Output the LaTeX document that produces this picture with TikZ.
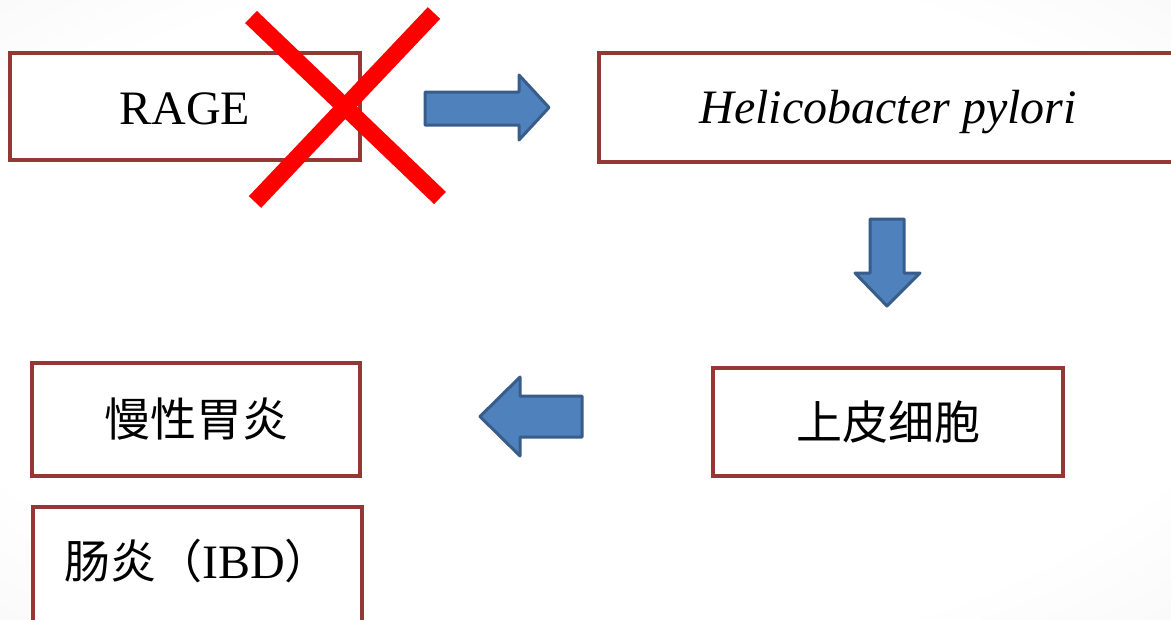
\documentclass[tikz,border=0pt]{standalone}
\usepackage{fontspec}
\setmainfont{Liberation Serif}
\newfontfamily\cjk{Noto Sans CJK SC}
\definecolor{boxred}{HTML}{953735}
\definecolor{arrowfill}{HTML}{4F81BD}
\definecolor{arrowline}{HTML}{385D8A}
\pgfdeclareradialshading{bgshade}{\pgfpoint{0bp}{0bp}}{color(0bp)=(white); color(28bp)=(white); color(50bp)=(black!6); color(72bp)=(black!9)}
\begin{document}
\begin{tikzpicture}[x=1pt,y=-1pt,
  box/.style={draw=boxred, line width=4pt, fill=white, rectangle, inner sep=0pt,
    font=\fontsize{48}{56}\selectfont},
  cjkfont/.style={font=\cjk\fontsize{46}{56}\selectfont},
  blockarrow/.style={fill=arrowfill, draw=arrowline, line width=3pt, line join=round},
  cross/.style={draw=red, line width=17pt, line cap=butt}]
\useasboundingbox (0,0) rectangle (1171,619);
\shade[shading=bgshade] (0,0) rectangle (1171,619);

\node[box, minimum width=350pt, minimum height=107pt] (rage) at (185,106.5) {\raisebox{-2pt}[\height][\depth]{RAGE}};
\node[box, minimum width=578pt, minimum height=109pt] (hp) at (888,107.5) {\raisebox{-5pt}[\height][\depth]{\itshape Helicobacter pylori}};
\node[box, cjkfont, minimum width=350pt, minimum height=108pt] (epi) at (888,422) {上皮细胞};
\node[box, cjkfont, minimum width=328pt, minimum height=113pt] (gast) at (196,419.5) {慢性胃炎};
\node[box, minimum width=329pt, minimum height=120pt] (ibd) at (197.5,567) {\raisebox{6pt}[\height][\depth]{{\cjk\fontsize{46}{56}\selectfont 肠炎（}IBD{\cjk\fontsize{46}{56}\selectfont ）}}};

% cross over RAGE
\coordinate (c1a) at (251,17);
\coordinate (c1b) at (440,198);
\coordinate (c2a) at (434,13);
\coordinate (c2b) at (255,202);
\draw[cross] (c1a) -- (c1b);
\draw[cross] (c2a) -- (c2b);

% block arrows
\draw[blockarrow] (425,92) -- (519,92) -- (519,75) -- (549,107.5) -- (519,140) -- (519,125) -- (425,125) -- cycle;
\draw[blockarrow] (870,219) -- (904,219) -- (904,273) -- (920,273) -- (887,306) -- (855,273) -- (870,273) -- cycle;
\draw[blockarrow] (582,396) -- (520,396) -- (520,377) -- (480,416.5) -- (520,456) -- (520,437) -- (582,437) -- cycle;
\end{tikzpicture}
\end{document}
